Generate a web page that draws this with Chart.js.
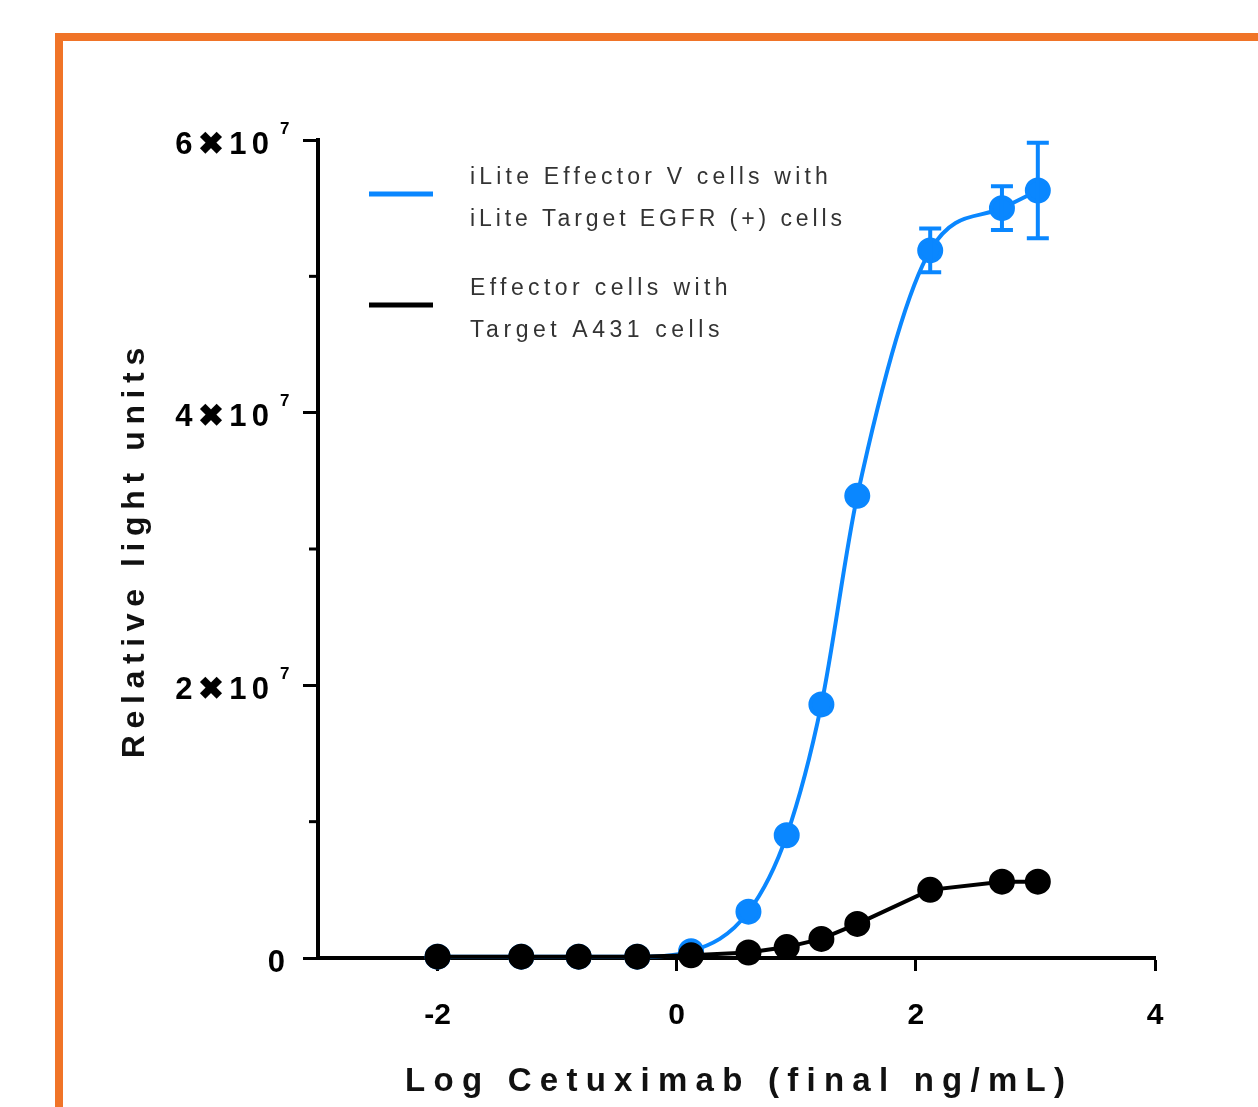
<!DOCTYPE html>
<html>
<head>
<meta charset="utf-8">
<script src="https://cdn.jsdelivr.net/npm/chart.js@4.4.1/dist/chart.umd.min.js"></script>
<style>
  html, body { margin: 0; padding: 0; background: #fff; overflow: hidden; }
  .frame {
    position: absolute; left: 55px; top: 33px; width: 1400px; height: 1300px;
    border-left: 8px solid #f07428; border-top: 8px solid #f07428;
  }
  .wrap { position: absolute; left: 0; top: 0; width: 1258px; height: 1107px; }
</style>
</head>
<body>
<div class="frame"></div>
<div class="wrap"><canvas id="chart" width="1258" height="1107"></canvas></div>
<script>
// log concentration of cetuximab (final ng/mL)
const logConc = [-2, -1.3, -0.82, -0.33, 0.12, 0.6, 0.92, 1.21, 1.51, 2.12, 2.72, 3.02];
// iLite Effector V + iLite Target EGFR (+)
const iliteRLU = [0.1e6, 0.1e6, 0.1e6, 0.1e6, 0.5e6, 3.4e6, 9.0e6, 18.6e6, 33.9e6, 51.9e6, 55.0e6, 56.3e6];
const iliteErr = [0, 0, 0, 0, 0, 0, 0, 0, 0, 1.6e6, 1.6e6, 3.5e6];
// Effector cells + Target A431
const a431RLU = [0.1e6, 0.1e6, 0.1e6, 0.1e6, 0.2e6, 0.4e6, 0.8e6, 1.4e6, 2.5e6, 5.0e6, 5.6e6, 5.6e6];

const xTicks = [-2, 0, 2, 4];
const yTicks = [0, 2e7, 4e7, 6e7];
const yMinor = [1e7, 3e7, 5e7];
const legendLines = [
  ["iLite Effector V cells with", "iLite Target EGFR (+) cells"],
  ["Effector cells with", "Target A431 cells"]
];
const xTitle = "Log Cetuximab (final ng/mL)";
const yTitle = "Relative light units";

const BLUE = "#0a87ff";
const FONT = "'Liberation Sans', Arial, sans-serif";

function toPoints(xs, ys) {
  return xs.map((x, i) => ({ x: x, y: ys[i] }));
}

// text with stretched letter spacing so it fills a given width
function spacedText(ctx, text, x, y, font, width, align) {
  ctx.save();
  ctx.font = font;
  ctx.letterSpacing = "0px";
  const natural = ctx.measureText(text).width;
  const sp = width ? Math.max(0, (width - natural) / text.length) : 0;
  ctx.letterSpacing = sp + "px";
  ctx.textAlign = align || "left";
  ctx.textBaseline = "middle";
  let dx = 0;
  if (align === "center") dx = sp / 2;
  if (align === "right") dx = sp;
  ctx.fillText(text, x + dx, y);
  ctx.restore();
}

const extras = {
  id: "extras",
  afterDatasetsDraw(chart) {
    const ctx = chart.ctx;
    const xs = chart.scales.x, ys = chart.scales.y;

    // error bars on the blue series
    ctx.save();
    ctx.strokeStyle = BLUE;
    ctx.lineWidth = 4;
    logConc.forEach((c, i) => {
      if (!iliteErr[i]) return;
      const px = xs.getPixelForValue(c);
      const top = ys.getPixelForValue(iliteRLU[i] + iliteErr[i]);
      const bot = ys.getPixelForValue(iliteRLU[i] - iliteErr[i]);
      ctx.beginPath();
      ctx.moveTo(px, top); ctx.lineTo(px, bot);
      ctx.moveTo(px - 11, top); ctx.lineTo(px + 11, top);
      ctx.moveTo(px - 11, bot); ctx.lineTo(px + 11, bot);
      ctx.stroke();
    });
    ctx.restore();
  },
  afterDraw(chart) {
    const ctx = chart.ctx;
    const ys = chart.scales.y;
    const left = chart.chartArea.left;

    // minor ticks on y
    ctx.save();
    ctx.strokeStyle = "#000";
    ctx.lineWidth = 3;
    yMinor.forEach(v => {
      const py = ys.getPixelForValue(v);
      ctx.beginPath();
      ctx.moveTo(left - 9, py); ctx.lineTo(left, py);
      ctx.stroke();
    });
    ctx.restore();

    // y tick labels in "6✖10⁷" form
    ctx.fillStyle = "#000";
    yTicks.forEach(v => {
      const py = ys.getPixelForValue(v) + 5;
      if (v === 0) {
        spacedText(ctx, "0", left - 33, py, "bold 31px " + FONT, 0, "right");
        return;
      }
      spacedText(ctx, (v / 1e7) + "\u271610", left - 49, py, "bold 31px " + FONT, 99, "right");
      spacedText(ctx, "7", left - 38, py - 16, "bold 17px " + FONT, 0, "left");
    });

    // axis titles
    ctx.fillStyle = "#111";
    spacedText(ctx, xTitle, 735, 1082, "bold 33px " + FONT, 668, "center");
    ctx.save();
    ctx.translate(135, 553);
    ctx.rotate(-Math.PI / 2);
    spacedText(ctx, yTitle, 0, 0, "bold 32px " + FONT, 417, "center");
    ctx.restore();

    // legend
    const colors = [BLUE, "#000"];
    const rowY = [178, 289];
    const widths = [[362, 376], [262, 254]];
    legendLines.forEach((lines, k) => {
      ctx.save();
      ctx.strokeStyle = colors[k];
      ctx.lineWidth = 5;
      ctx.beginPath();
      ctx.moveTo(369, rowY[k] + 16);
      ctx.lineTo(433, rowY[k] + 16);
      ctx.stroke();
      ctx.restore();
      ctx.fillStyle = "#333";
      lines.forEach((t, j) => {
        spacedText(ctx, t, 470, rowY[k] + j * 42, "23px " + FONT, widths[k][j], "left");
      });
    });
  }
};

new Chart(document.getElementById("chart"), {
  type: "line",
  data: {
    datasets: [
      {
        label: "Effector cells with Target A431 cells",
        data: toPoints(logConc, a431RLU),
        borderColor: "#000",
        backgroundColor: "#000",
        borderWidth: 4,
        pointRadius: 11,
        pointHoverRadius: 11,
        tension: 0,
        clip: false,
        order: 0
      },
      {
        label: "iLite Effector V cells with iLite Target EGFR (+) cells",
        data: toPoints(logConc, iliteRLU),
        borderColor: BLUE,
        backgroundColor: BLUE,
        borderWidth: 4,
        pointRadius: 11,
        pointHoverRadius: 11,
        cubicInterpolationMode: "monotone",
        clip: false,
        order: 1
      }
    ]
  },
  plugins: [extras],
  options: {
    responsive: false,
    animation: false,
    layout: { padding: { left: 0, top: 140, right: 103, bottom: 0 } },
    plugins: { legend: { display: false }, tooltip: { enabled: false } },
    scales: {
      x: {
        type: "linear",
        min: -3,
        max: 4,
        afterBuildTicks: s => { s.ticks = xTicks.map(v => ({ value: v })); },
        afterFit: s => { s.height = 149; },
        border: { display: true, color: "#000", width: 4 },
        grid: { display: true, drawOnChartArea: false, drawTicks: true, tickLength: 13, tickWidth: 3, tickColor: "#000" },
        ticks: {
          color: "#000",
          padding: 27,
          font: { family: FONT, size: 30, weight: "bold" },
          callback: v => String(v)
        }
      },
      y: {
        min: 0,
        max: 6e7,
        afterBuildTicks: s => { s.ticks = yTicks.map(v => ({ value: v })); },
        afterFit: s => { s.width = 318; },
        border: { display: true, color: "#000", width: 4 },
        grid: { display: true, drawOnChartArea: false, drawTicks: true, tickLength: 15, tickWidth: 3, tickColor: "#000" },
        ticks: { display: false }
      }
    }
  }
});
</script>
</body>
</html>
